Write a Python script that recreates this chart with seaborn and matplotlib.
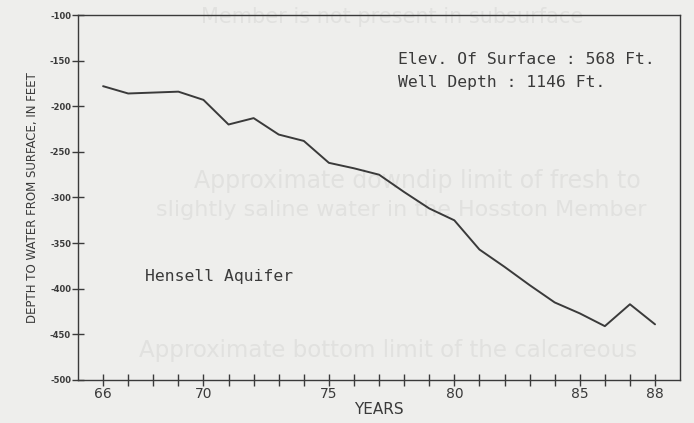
import matplotlib
matplotlib.use("Agg")
import matplotlib.pyplot as plt
import seaborn as sns
import pandas as pd

# -------------------------------------------------
# data read off the hydrograph
# -------------------------------------------------
years = list(range(66, 89))
depth = [-178, -186, -185, -184, -193, -220, -213, -231, -238, -262, -268, -275,
         -294, -312, -325, -357, -376, -396, -415, -427, -441, -417, -439]

year_labels = ["66", "70", "75", "80", "85", "88"]
depth_ticks = [-100, -150, -200, -250, -300, -350, -400, -450, -500]

df = pd.DataFrame({"year": years, "depth": depth})

# -------------------------------------------------
# style
# -------------------------------------------------
sns.set_style("ticks")
plt.rcParams["font.family"] = ["DejaVu Sans"]
ink = "#3a3a3a"
paper = "#eeeeec"

fig = plt.figure(figsize=(6.94, 4.23), dpi=100, facecolor=paper)
ax = fig.add_axes([0.1124, 0.1017, 0.8676, 0.8628])
ax.set_facecolor(paper)

# faint bleed-through text from the back of the page (kept under the line)
ghost = "#e1e1df"
ghost_kw = dict(color=ghost, transform=fig.transFigure, zorder=0.5, clip_on=False)
ax.text(0.29, 0.945, "Member is not present in subsurface", fontsize=15, **ghost_kw)
ax.text(0.28, 0.555, "Approximate downdip limit of fresh to", fontsize=17, **ghost_kw)
ax.text(0.225, 0.49, "slightly saline water in the Hosston Member", fontsize=16, **ghost_kw)
ax.text(0.20, 0.155, "Approximate bottom limit of the calcareous", fontsize=16.5, **ghost_kw)

# -------------------------------------------------
# line
# -------------------------------------------------
sns.lineplot(data=df, x="year", y="depth", ax=ax, color=ink, linewidth=1.4, zorder=3)

ax.set_xlim(65, 89)
ax.set_ylim(-500, -100)

ax.set_xticks(years)
ax.set_xticklabels([str(y) if str(y) in year_labels else "" for y in years],
                   fontsize=10, color=ink)
ax.set_yticks(depth_ticks)
ax.set_yticklabels([str(t) for t in depth_ticks], fontsize=6, color=ink, fontweight="bold")

ax.tick_params(axis="both", direction="inout", length=8, width=1.0, color=ink)
ax.tick_params(axis="x", pad=1)
ax.tick_params(axis="y", pad=1)
for s in ax.spines.values():
    s.set_color(ink)
    s.set_linewidth(1.0)

ax.set_xlabel("YEARS", fontsize=11, color=ink, labelpad=1)
ax.set_ylabel("DEPTH TO WATER FROM SURFACE, IN FEET", fontsize=8.5, color=ink, labelpad=8)

mono = ["DejaVu Sans Mono"]
ax.text(0.532, 0.865, "Elev. Of Surface : 568 Ft.", transform=ax.transAxes,
        fontsize=11.8, color=ink, family=mono, zorder=4)
ax.text(0.532, 0.802, "Well Depth : 1146 Ft.", transform=ax.transAxes,
        fontsize=11.8, color=ink, family=mono, zorder=4)
ax.text(0.111, 0.272, "Hensell Aquifer", transform=ax.transAxes,
        fontsize=11.8, color=ink, family=mono, zorder=4)

fig.savefig("out.png", dpi=100, facecolor=paper)
